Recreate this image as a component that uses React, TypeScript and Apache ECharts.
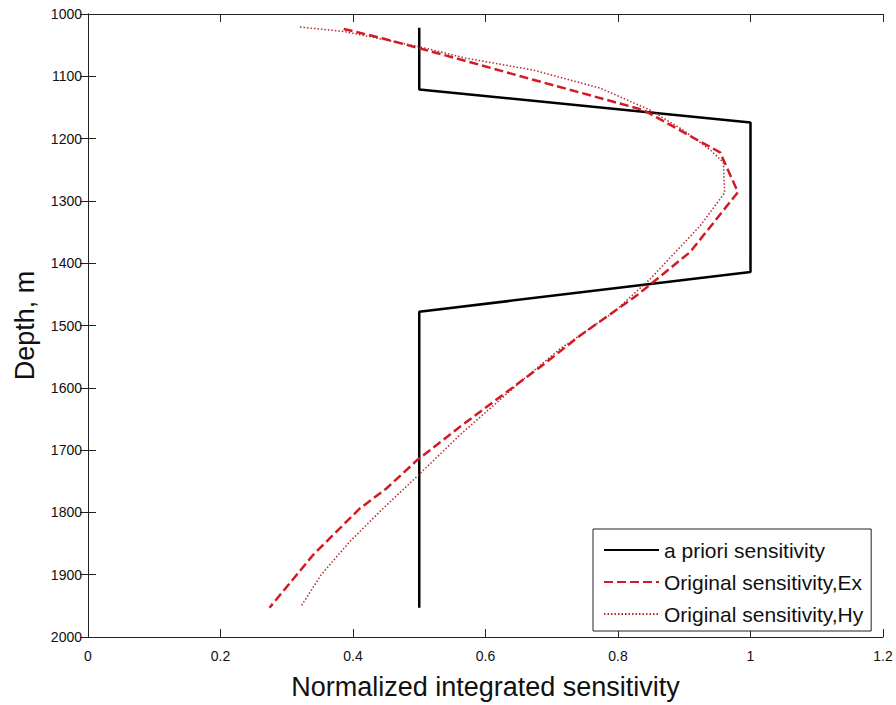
import React, { useEffect, useRef } from "react";
import * as echarts from "echarts";

const aprioriX = [0.5, 0.5, 1.0, 1.0, 0.5, 0.5];
const aprioriDepth = [1022, 1121, 1174, 1414, 1478, 1953];

const exX = [0.386, 0.448, 0.569, 0.653, 0.739, 0.838, 0.874, 0.916, 0.954, 0.981, 0.909, 0.828, 0.743, 0.682, 0.561, 0.498, 0.45, 0.41, 0.34, 0.274];
const exDepth = [1024, 1040, 1075, 1100, 1125, 1154, 1175, 1200, 1222, 1286, 1382, 1452, 1516, 1567, 1663, 1715, 1762, 1794, 1868, 1953];

const hyX = [0.32, 0.386, 0.498, 0.571, 0.672, 0.773, 0.848, 0.898, 0.939, 0.959, 0.961, 0.924, 0.848, 0.793, 0.712, 0.652, 0.561, 0.496, 0.445, 0.395, 0.352, 0.322];
const hyDepth = [1021, 1028, 1052, 1071, 1090, 1119, 1154, 1186, 1218, 1238, 1287, 1340, 1426, 1479, 1538, 1591, 1676, 1743, 1794, 1847, 1900, 1950];

const seriesNames = ["a priori sensitivity", "Original sensitivity,Ex", "Original sensitivity,Hy"];
const xTitle = "Normalized integrated sensitivity";
const yTitle = "Depth, m";

const FONT = "'Liberation Sans', Arial, Helvetica, sans-serif";

const zip = (xs: number[], ys: number[]) => xs.map((x, i) => [x, ys[i]]);

export default function App() {
  const ref = useRef<HTMLDivElement>(null);
  useEffect(() => {
    if (!ref.current) return;
    const chart = echarts.init(ref.current, undefined, { renderer: "svg" });
    const axisLine = { show: true, lineStyle: { color: "#222", width: 1 } };
    const tick = { show: true, inside: true, length: 8, lineStyle: { color: "#222", width: 1 } };
    chart.setOption({
      animation: false,
      backgroundColor: "#fff",
      grid: { left: 88, top: 14, right: 13, bottom: 66, containLabel: false },
      legend: {
        orient: "vertical",
        left: 593,
        top: 529,
        data: seriesNames,
        itemWidth: 55,
        itemHeight: 12,
        itemGap: 8,
        padding: [9, 8, 5, 10],
        borderColor: "#222",
        borderWidth: 1,
        backgroundColor: "#fff",
        itemStyle: { opacity: 0 },
        textStyle: { fontFamily: FONT, fontSize: 21, color: "#111", lineHeight: 24 },
      },
      xAxis: [
        {
          type: "value",
          min: 0,
          max: 1.2,
          interval: 0.2,
          position: "bottom",
          axisLine,
          axisTick: tick,
          splitLine: { show: false },
          axisLabel: { fontFamily: FONT, fontSize: 14, color: "#111", margin: 12 },
          name: xTitle,
          nameLocation: "middle",
          nameGap: 36,
          nameTextStyle: { fontFamily: FONT, fontSize: 27, color: "#111" },
        },
        {
          type: "value",
          min: 0,
          max: 1.2,
          interval: 0.2,
          position: "top",
          axisLine,
          axisTick: tick,
          splitLine: { show: false },
          axisLabel: { show: false },
        },
      ],
      yAxis: [
        {
          type: "value",
          min: 1000,
          max: 2000,
          interval: 100,
          inverse: true,
          position: "left",
          axisLine,
          axisTick: tick,
          splitLine: { show: false },
          axisLabel: {
            fontFamily: FONT,
            fontSize: 14,
            color: "#111",
            margin: 6,
            formatter: (v: number) => String(v),
          },
          name: yTitle,
          nameLocation: "middle",
          nameGap: 50,
          nameRotate: 90,
          nameTextStyle: { fontFamily: FONT, fontSize: 27, color: "#111", padding: [0, 0, 0, 0] },
        },
        {
          type: "value",
          min: 1000,
          max: 2000,
          interval: 100,
          inverse: true,
          position: "right",
          axisLine,
          axisTick: tick,
          splitLine: { show: false },
          axisLabel: { show: false },
        },
      ],
      series: [
        {
          name: seriesNames[0],
          type: "line",
          data: zip(aprioriX, aprioriDepth),
          symbol: "none",
          lineStyle: { color: "#000", width: 2.5, type: "solid" },
          itemStyle: { color: "#000" },
          z: 3,
        },
        {
          name: seriesNames[1],
          type: "line",
          data: zip(exX, exDepth),
          symbol: "none",
          lineStyle: { color: "#d31a22", width: 2.5, type: [9, 4] },
          itemStyle: { color: "#d31a22" },
          z: 4,
        },
        {
          name: seriesNames[2],
          type: "line",
          data: zip(hyX, hyDepth),
          symbol: "none",
          lineStyle: { color: "#b52a32", width: 1.5, type: [1.5, 2] },
          itemStyle: { color: "#b52a32" },
          z: 5,
        },
      ],
    });
    return () => chart.dispose();
  }, []);
  return (
    <div
      ref={ref}
      style={{ position: "fixed", left: 0, top: 0, width: 896, height: 705, background: "#fff" }}
    />
  );
}
